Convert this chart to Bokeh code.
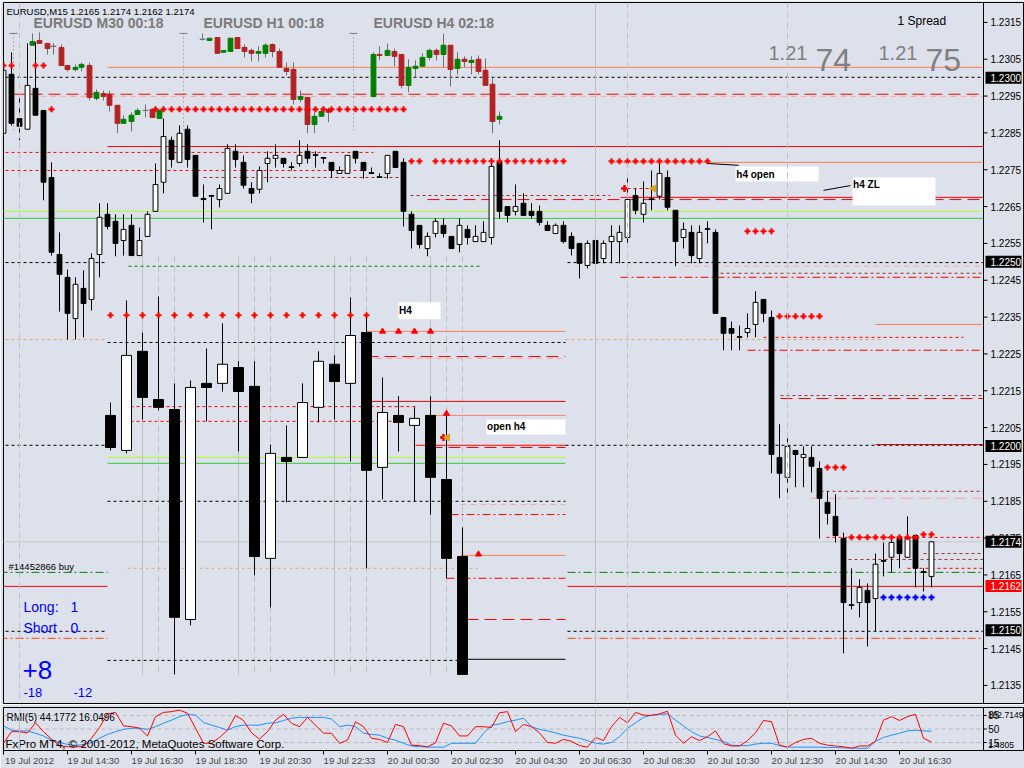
from bokeh.plotting import figure
from bokeh.models import (Range1d, LinearAxis, FixedTicker, ColumnDataSource, Span)
from bokeh.layouts import column
from bokeh.core.properties import value
from bokeh.embed import file_html
from bokeh.resources import INLINE

BG = "#DDE1EB"
FONT = "Liberation Sans"

# ---------------- axis data ----------------
time_ticks = [0, 8, 16, 24, 32, 40, 48, 56, 64, 72, 80, 88, 96, 104, 112]
time_labels = ["19 Jul 2012", "19 Jul 14:30", "19 Jul 16:30", "19 Jul 18:30", "19 Jul 20:30",
               "19 Jul 22:33", "20 Jul 00:30", "20 Jul 02:30", "20 Jul 04:30", "20 Jul 06:30",
               "20 Jul 08:30", "20 Jul 10:30", "20 Jul 12:30", "20 Jul 14:30", "20 Jul 16:30"]
price_ticks = [1.2135, 1.2145, 1.2155, 1.2165, 1.2175, 1.2185, 1.2195, 1.2205, 1.2215, 1.2225,
               1.2235, 1.2245, 1.2255, 1.2265, 1.2275, 1.2285, 1.2295, 1.2305, 1.2315]
price_tick_labels = ["1.2135", "1.2145", "1.2155", "1.2165", "1.2175", "1.2185", "1.2195", "1.2205",
                     "1.2215", "1.2225", "1.2235", "1.2245", "1.2255", "1.2265", "1.2275", "1.2285",
                     "1.2295", "1.2305", "1.2315"]
price_box_text = ["1.2300", "1.2250", "1.2200", "1.2174", "1.2162", "1.2150"]
price_box_level = [1.2300, 1.2250, 1.2200, 1.2174, 1.2162, 1.2150]
price_box_color = ["black", "black", "black", "black", "red", "black"]
rmi_levels = [15, 50, 85]
rmi_level_labels = ["15", "50", "85"]

# ---------------- EURUSD M15 candles ----------------
m15_open = [1.22849, 1.23009, 1.22889, 1.22860, 1.22971, 1.22911, 1.22729, 1.22520, 1.22458, 1.22346,
            1.22428, 1.22398, 1.22520, 1.22629, 1.22610, 1.22558, 1.22599, 1.22517, 1.22569, 1.22637,
            1.22716, 1.22830, 1.22770, 1.22860, 1.22789, 1.22672, 1.22680, 1.22669, 1.22686, 1.22800,
            1.22770, 1.22699, 1.22697, 1.22767, 1.22781, 1.22781, 1.22758, 1.22767, 1.22800, 1.22791,
            1.22783, 1.22770, 1.22740, 1.22740, 1.22800, 1.22770, 1.22742, 1.22731, 1.22740, 1.22800,
            1.22770, 1.22629, 1.22599, 1.22536, 1.22577, 1.22599, 1.22569, 1.22547, 1.22588, 1.22555,
            1.22555, 1.22566, 1.22770, 1.22650, 1.22637, 1.22659, 1.22637, 1.22637, 1.22599, 1.22577,
            1.22599, 1.22569, 1.22550, 1.22490, 1.22558, 1.22509, 1.22555, 1.22555, 1.22566, 1.22680,
            1.22629, 1.22671, 1.22678, 1.22729, 1.22640, 1.22566, 1.22580, 1.22509, 1.22590, 1.22580,
            1.22349, 1.22319, 1.22297, 1.22308, 1.22330, 1.22398, 1.22349, 1.21969, 1.21915, 1.21988,
            1.21969, 1.21969, 1.21939, 1.21847, 1.21809, 1.21749, 1.21569, 1.21575, 1.21608, 1.21586,
            1.21689, 1.21698, 1.21749, 1.21698, 1.21757, 1.21659, 1.21646]
m15_high = [1.23020, 1.23069, 1.22946, 1.23093, 1.23096, 1.22911, 1.22770, 1.22580, 1.22479, 1.22458,
            1.22477, 1.22523, 1.22659, 1.22659, 1.22629, 1.22629, 1.22629, 1.22593, 1.22637, 1.22767,
            1.22889, 1.22840, 1.22870, 1.22870, 1.22789, 1.22710, 1.22682, 1.22710, 1.22819, 1.22819,
            1.22789, 1.22716, 1.22759, 1.22800, 1.22819, 1.22781, 1.22770, 1.22830, 1.22819, 1.22800,
            1.22783, 1.22770, 1.22759, 1.22789, 1.22800, 1.22770, 1.22756, 1.22740, 1.22789, 1.22800,
            1.22781, 1.22637, 1.22599, 1.22580, 1.22618, 1.22618, 1.22569, 1.22618, 1.22599, 1.22599,
            1.22610, 1.22781, 1.22830, 1.22650, 1.22710, 1.22686, 1.22659, 1.22653, 1.22610, 1.22604,
            1.22610, 1.22580, 1.22550, 1.22558, 1.22566, 1.22558, 1.22599, 1.22599, 1.22740, 1.22699,
            1.22718, 1.22748, 1.22770, 1.22748, 1.22640, 1.22607, 1.22599, 1.22599, 1.22610, 1.22588,
            1.22349, 1.22338, 1.22327, 1.22360, 1.22420, 1.22398, 1.22368, 1.22059, 1.22029, 1.21988,
            1.21999, 1.21999, 1.21958, 1.21877, 1.21869, 1.21765, 1.21668, 1.21638, 1.21627, 1.21708,
            1.21738, 1.21749, 1.21757, 1.21809, 1.21757, 1.21668, 1.21740]
m15_low = [1.22811, 1.22870, 1.22830, 1.22860, 1.22898, 1.22667, 1.22517, 1.22365, 1.22289, 1.22289,
           1.22295, 1.22368, 1.22458, 1.22588, 1.22515, 1.22517, 1.22517, 1.22517, 1.22569, 1.22637,
           1.22686, 1.22756, 1.22770, 1.22756, 1.22678, 1.22607, 1.22588, 1.22648, 1.22686, 1.22756,
           1.22699, 1.22659, 1.22686, 1.22716, 1.22756, 1.22756, 1.22748, 1.22759, 1.22767, 1.22756,
           1.22767, 1.22729, 1.22740, 1.22740, 1.22767, 1.22726, 1.22740, 1.22729, 1.22726, 1.22756,
           1.22596, 1.22536, 1.22536, 1.22515, 1.22566, 1.22566, 1.22536, 1.22526, 1.22547, 1.22555,
           1.22555, 1.22547, 1.22618, 1.22607, 1.22626, 1.22626, 1.22618, 1.22599, 1.22585, 1.22577,
           1.22550, 1.22517, 1.22455, 1.22482, 1.22455, 1.22496, 1.22496, 1.22496, 1.22550, 1.22629,
           1.22607, 1.22640, 1.22669, 1.22640, 1.22488, 1.22536, 1.22496, 1.22496, 1.22550, 1.22360,
           1.22260, 1.22260, 1.22260, 1.22295, 1.22295, 1.22336, 1.21926, 1.21858, 1.21858, 1.21888,
           1.21888, 1.21874, 1.21749, 1.21787, 1.21738, 1.21437, 1.21556, 1.21535, 1.21456, 1.21497,
           1.21646, 1.21657, 1.21668, 1.21698, 1.21616, 1.21605, 1.21616]
m15_close = [1.23020, 1.22876, 1.22868, 1.22979, 1.22898, 1.22716, 1.22526, 1.22466, 1.22360, 1.22439,
             1.22387, 1.22509, 1.22621, 1.22596, 1.22550, 1.22588, 1.22517, 1.22558, 1.22629, 1.22710,
             1.22840, 1.22778, 1.22849, 1.22778, 1.22678, 1.22669, 1.22678, 1.22699, 1.22808, 1.22778,
             1.22708, 1.22686, 1.22748, 1.22781, 1.22789, 1.22767, 1.22756, 1.22789, 1.22781, 1.22789,
             1.22781, 1.22748, 1.22748, 1.22789, 1.22781, 1.22748, 1.22740, 1.22729, 1.22789, 1.22756,
             1.22637, 1.22585, 1.22547, 1.22569, 1.22610, 1.22577, 1.22536, 1.22599, 1.22566, 1.22569,
             1.22580, 1.22759, 1.22637, 1.22626, 1.22650, 1.22626, 1.22626, 1.22607, 1.22585, 1.22599,
             1.22555, 1.22536, 1.22496, 1.22550, 1.22496, 1.22550, 1.22569, 1.22580, 1.22669, 1.22640,
             1.22659, 1.22669, 1.22740, 1.22648, 1.22555, 1.22588, 1.22517, 1.22580, 1.22588, 1.22360,
             1.22306, 1.22306, 1.22295, 1.22319, 1.22390, 1.22360, 1.21977, 1.21926, 1.21999, 1.21977,
             1.21977, 1.21945, 1.21858, 1.21817, 1.21757, 1.21575, 1.21567, 1.21616, 1.21575, 1.21679,
             1.21687, 1.21738, 1.21708, 1.21749, 1.21668, 1.21657, 1.21740]

# ---------------- overlay mini charts (M30 / H1 / H4) ----------------
mini_x = [3.625, 4.5, 5.5, 6.25, 7.25, 8.0, 9.0, 9.75, 10.75, 11.625, 12.5, 13.25, 14.25, 15.0, 16.0,
          16.75, 17.75, 18.625, 19.5,
          24.875, 25.75, 26.75, 27.5, 28.375, 29.25, 30.125, 31.0, 31.875, 32.75, 33.625, 34.5, 35.375,
          36.25, 37.125, 38.0, 38.875, 39.75, 40.625,
          46.25, 47.0, 48.0, 48.875, 49.75, 50.625, 51.5, 52.375, 53.25, 54.125, 55.0, 55.875, 56.75,
          57.625, 58.5, 59.375, 60.25, 61.125, 62.0]
mini_open = [1.23088, 1.23101, 1.23093, 1.23085, 1.23082, 1.23033, 1.23022, 1.23028, 1.23033, 1.22944,
             1.22957, 1.22955, 1.22925, 1.22876, 1.22881, 1.22900, 1.22911, 1.22914, 1.22889,
             1.23104, 1.23101, 1.23109, 1.23069, 1.23071, 1.23109, 1.23082, 1.23074, 1.23066, 1.23066,
             1.23090, 1.23071, 1.23025, 1.23022, 1.22941, 1.22946, 1.22873, 1.22895, 1.22914,
             1.22949, 1.23063, 1.23060, 1.23071, 1.23063, 1.22979, 1.23025, 1.23031, 1.23055, 1.23074,
             1.23063, 1.23088, 1.23025, 1.23050, 1.23041, 1.23050, 1.23020, 1.22982, 1.22887]
mini_high = [1.23120, 1.23123, 1.23093, 1.23093, 1.23090, 1.23033, 1.23036, 1.23041, 1.23041, 1.22968,
             1.22965, 1.22965, 1.22925, 1.22898, 1.22906, 1.22917, 1.22927, 1.22914, 1.22914,
             1.23120, 1.23107, 1.23109, 1.23074, 1.23107, 1.23109, 1.23090, 1.23079, 1.23085, 1.23093,
             1.23093, 1.23079, 1.23041, 1.23041, 1.22965, 1.22946, 1.22906, 1.22919, 1.22919,
             1.23069, 1.23085, 1.23093, 1.23079, 1.23063, 1.23050, 1.23047, 1.23066, 1.23079, 1.23079,
             1.23120, 1.23088, 1.23069, 1.23058, 1.23058, 1.23060, 1.23052, 1.22998, 1.22908]
mini_low = [1.23088, 1.23093, 1.23063, 1.23063, 1.23033, 1.23017, 1.23017, 1.23017, 1.22938, 1.22938,
            1.22938, 1.22908, 1.22849, 1.22876, 1.22854, 1.22900, 1.22892, 1.22892, 1.22889,
            1.23101, 1.23101, 1.23066, 1.23069, 1.23071, 1.23079, 1.23055, 1.23044, 1.23044, 1.23055,
            1.23055, 1.23028, 1.23006, 1.22927, 1.22933, 1.22849, 1.22849, 1.22895, 1.22879,
            1.22946, 1.23047, 1.23060, 1.23031, 1.22971, 1.22960, 1.23001, 1.23031, 1.23047, 1.23047,
            1.23028, 1.22976, 1.23009, 1.23028, 1.23009, 1.23009, 1.22979, 1.22849, 1.22873]
mini_close = [1.23098, 1.23093, 1.23079, 1.23085, 1.23033, 1.23022, 1.23028, 1.23036, 1.22946, 1.22960,
              1.22949, 1.22925, 1.22876, 1.22887, 1.22898, 1.22911, 1.22911, 1.22892, 1.22911,
              1.23104, 1.23107, 1.23066, 1.23074, 1.23107, 1.23079, 1.23071, 1.23066, 1.23071, 1.23088,
              1.23071, 1.23028, 1.23017, 1.22941, 1.22949, 1.22873, 1.22895, 1.22908, 1.22906,
              1.23063, 1.23060, 1.23074, 1.23058, 1.22979, 1.23028, 1.23031, 1.23055, 1.23074, 1.23063,
              1.23088, 1.23022, 1.23050, 1.23044, 1.23047, 1.23017, 1.22979, 1.22881, 1.22895]
mini_sep_x = [1.25, 22.5, 43.75]
mini_titles = ["EURUSD M30 00:18", "EURUSD H1 00:18", "EURUSD H4 02:18"]
mini_title_x = [3.75, 25.0, 46.25]

# ---------------- overlay large candles ----------------
big_x = [13.375, 15.375, 17.375, 19.375, 21.375, 23.375, 25.375, 27.375, 29.375, 31.375, 33.375, 35.375,
         37.375, 39.375, 41.375, 43.375, 45.375, 47.375, 49.375, 51.375, 53.375, 55.375, 57.375]
big_open = [1.22083, 1.21988, 1.22257, 1.22126, 1.22099, 1.21529, 1.22170, 1.22170, 1.22213, 1.22162,
            1.21695, 1.21969, 1.21969, 1.22105, 1.22222, 1.22170, 1.22308, 1.21942, 1.22083, 1.22056,
            1.22083, 1.21909, 1.21700]
big_high = [1.22118, 1.22395, 1.22308, 1.22406, 1.22170, 1.22178, 1.22265, 1.22333, 1.22230, 1.22230,
            1.22004, 1.22056, 1.22170, 1.22257, 1.22246, 1.22403, 1.22355, 1.22186, 1.22135, 1.22105,
            1.22135, 1.22083, 1.21779]
big_low = [1.21988, 1.21980, 1.22072, 1.22097, 1.21380, 1.21513, 1.22067, 1.22148, 1.21985, 1.21649,
           1.21562, 1.21847, 1.21969, 1.22064, 1.22072, 1.21958, 1.21668, 1.21855, 1.21985, 1.21850,
           1.21814, 1.21641, 1.21380]
big_close = [1.21996, 1.22246, 1.22132, 1.22105, 1.21535, 1.22159, 1.22159, 1.22222, 1.22148, 1.21700,
             1.21980, 1.21958, 1.22118, 1.22230, 1.22175, 1.22300, 1.21934, 1.22091, 1.22064, 1.22075,
             1.21915, 1.21695, 1.21380]
big_grid_x = [17.375, 19.375, 21.375, 29.375, 31.375, 33.375, 41.375, 43.375, 45.375, 53.375, 55.375, 57.375]
big_grid_style = ["solid", "vdash", "vdash"] * 4
big_grid_top = 1.22515
big_grid_bottom = 1.21377

# ---------------- horizontal level lines ----------------
hl_price = [1.23028, 1.23001, 1.22955, 1.22949, 1.22813, 1.22797, 1.22770, 1.22748, 1.22729, 1.22699,
            1.22680, 1.22675, 1.22669, 1.22637, 1.22618, 1.22498, 1.22498, 1.22488, 1.22488, 1.22469,
            1.22458, 1.22330, 1.22311, 1.22295, 1.22289, 1.22289, 1.22281, 1.22260, 1.22243, 1.22238,
            1.22137, 1.22129, 1.22121, 1.22107, 1.22083, 1.22067, 1.22002, 1.22002, 1.22004, 1.22002,
            1.21996, 1.21969, 1.21953, 1.21877, 1.21858, 1.21850, 1.21841, 1.21814, 1.21752, 1.21740,
            1.21708, 1.21703, 1.21692, 1.21668, 1.21668, 1.21657, 1.21657, 1.21641, 1.21619, 1.21619,
            1.21529, 1.21497, 1.21497, 1.21478, 1.21478, 1.21421, 1.21418]
hl_x0 = [13.0, -0.5, 1.125, 4.625, 13.0, -0.5, 75.875, -0.5, 25.0, 78.0,
         50.875, 77.125, 53.0, -0.5, -0.5, -0.5, 70.5, 15.625, 85.0, 89.625,
         77.125, 109.0, 45.375, 95.0, -0.5, 70.25, 13.0, 93.0, 45.375, 45.375,
         97.125, 97.125, 45.375, 15.875, 53.375, 15.875, -0.5, 70.25, 109.0, 51.5,
         53.375, 13.0, 13.0, 102.125, 100.875, 13.0, 57.125, 55.875, 102.875, -0.5,
         115.0, 57.125, 105.625, 113.0, 15.5, -0.5, 70.5, 55.375, -0.5, 70.5,
         57.875, -0.5, 70.5, -0.5, 70.5, 57.875, 13.0]
hl_x1 = [122.5, 122.5, 122.5, 122.5, 122.5, 46.25, 122.5, 45.0, 49.4, 80.875,
         75.875, 122.5, 122.5, 122.5, 122.5, 13.0, 122.5, 59.625, 122.5, 122.5,
         122.5, 122.5, 70.25, 120.0, 13.0, 110.0, 70.25, 122.5, 70.25, 70.25,
         122.5, 122.5, 70.25, 51.5, 70.25, 49.625, 13.0, 122.5, 122.5, 70.25,
         70.25, 70.25, 70.25, 122.5, 122.5, 70.25, 70.25, 70.25, 122.5, 122.5,
         122.5, 70.25, 122.5, 122.5, 59.625, 13.0, 122.5, 70.25, 13.0, 122.5,
         70.25, 13.0, 122.5, 13.0, 122.5, 70.25, 57.875]
hl_color = ["#FF7F50", "black", "red", "#F5A9A9", "red", "red", "#FF7F50", "red", "#A52A2A", "red",
            "#A52A2A", "red", "red", "#ADFF2F", "#32CD32", "black", "black", "#008000", "#F5A9A9", "#A52A2A",
            "red", "#FF7F50", "#FF7F50", "red", "#F4A460", "#F4A460", "black", "red", "red", "#F5A9A9",
            "#A52A2A", "red", "red", "red", "#FA8072", "red", "black", "black", "red", "red",
            "red", "#ADFF2F", "#32CD32", "#A52A2A", "#F5A9A9", "black", "#F5A9A9", "red", "red", "#C8C8C8",
            "#A52A2A", "#FF7F50", "#A52A2A", "red", "#F4A460", "#008000", "#008000", "red", "red", "red",
            "red", "black", "black", "#FF4500", "#FF4500", "black", "black"]
hl_style = ["solid", "dash", "longdash", "mdash", "solid", "dash", "solid", "dash", "dash", "dash",
            "dash", "solid", "longdash", "solid", "solid", "dash", "dash", "dash", "mdash", "dash",
            "dashdot", "solid", "solid", "dash", "dash", "dash", "dash", "dashdot", "longdash", "mdash",
            "dash", "longdash", "solid", "dash", "solid", "dash", "dash", "dash", "solid", "solid",
            "longdash", "solid", "solid", "dash", "longdash", "dash", "mdash", "dashdot", "dash", "solid",
            "dash", "solid", "dash", "dash", "dash", "dashdot", "dashdot", "dashdot", "solid", "solid",
            "longdash", "dash", "dash", "dashdot", "dashdot", "solid", "dash"]

# ---------------- vertical separators ----------------
vl_x = [2.0, 74.0, 78.0, 98.0]
vl_style = ["vdash", "solid", "vdash", "vdash"]

# ---------------- indicator marks ----------------
dot_rows_x = [[0, 1, 4, 5],
              [6, 19, 20, 21, 22, 23, 24, 25, 26, 27, 28, 29, 30, 31, 32, 33, 34, 35, 36, 37, 38, 39, 40,
               41, 42, 43, 44, 45, 46, 47, 48, 49, 50],
              [51, 52, 54, 55, 56, 57, 58, 59, 60, 61, 62, 63, 64, 65, 66, 67, 68, 69, 70,
               76, 77, 78, 79, 80, 81, 82, 83, 84, 85, 86, 87, 88],
              [93, 94, 95, 96],
              [97, 98, 99, 100, 101, 102],
              [103, 104, 105],
              [106, 107, 108, 109, 110, 111, 112, 113, 114],
              [115, 116],
              [13.375, 15.375, 17.375, 19.375, 21.375, 23.375, 25.375, 27.375, 29.375, 31.375, 33.375,
               35.375, 37.375, 39.375, 41.375, 43.375, 45.375]]
dot_rows_price = [1.23033, 1.22914, 1.22773, 1.22583, 1.22352, 1.21942, 1.21752, 1.21760, 1.22355]
blue_dots_x = [110, 111, 112, 113, 114, 115, 116]
blue_dots_price = 1.21589
arrow_up_x = [47.375, 49.375, 51.375, 53.375, 55.375, 59.375]
arrow_up_price = [1.22311, 1.22311, 1.22311, 1.22311, 1.22088, 1.21706]
star_x = [77.625, 55.0]
star_price = [1.22699, 1.22023]
arrow_left_x = [81.25, 55.5]
arrow_left_price = [1.22699, 1.22023]

# ---------------- notes ----------------
box_left = [91.5, 106.125, 49.375, 60.375]
box_right = [101.875, 116.5, 54.625, 70.25]
box_top = [1.22759, 1.22729, 1.22390, 1.22072]
box_bottom = [1.22718, 1.22653, 1.22344, 1.22031]
conn_x0 = [88.0, 102.5]
conn_x1 = [91.875, 105.875]
conn_y0 = [1.22767, 1.22694]
conn_y1 = [1.22762, 1.22707]

note_x = [0.375, 111.75, 91.6, 106.2, 49.45, 60.45, 0.625, 2.5, 8.375, 2.5, 8.375, 2.375, 2.5, 8.75,
          95.625, 101.5, 109.375, 115.25]
note_y = [1.23180, 1.23153, 1.22737, 1.22710, 1.22368, 1.22053, 1.21673, 1.21564, 1.21564, 1.21507,
          1.21507, 1.21393, 1.21331, 1.21331, 1.23066, 1.23047, 1.23066, 1.23047]
note_text = ["EURUSD,M15  1.2165 1.2174 1.2162 1.2174", "1 Spread", "h4 open", "h4 ZL", "H4", "open h4",
             "#14452866 buy", "Long:", "1", "Short", "0", "+8", "-18", "-12", "1.21", "74", "1.21", "75"]
note_size = ["9.5px", "12px", "10px", "10px", "10px", "10px", "9.5px", "14px", "14px", "14px", "14px",
             "26px", "13px", "13px", "20px", "32px", "20px", "32px"]
note_color = ["black", "black", "black", "black", "black", "black", "black", "blue", "blue", "blue",
              "blue", "blue", "blue", "blue", "#808080", "#808080", "#808080", "#808080"]
note_bold = [False, False, True, True, True, True, False, False, False, False, False, False, False, False,
             False, False, False, False]
note_base = ["middle"] * 14 + ["alphabetic"] * 4

# ---------------- RMI(5) ----------------
rmi_red = [12.8, 43, 43, 40, 66, 43, 24, 7, 4, 4, 4, 26, 54, 89, 93, 58, 56, 52, 32, 82,
           93, 95, 99, 91, 52, 13, 13, 28, 47, 85, 72, 40, 24, 43, 73, 88, 65, 56, 80, 60,
           39, 39, 13, 21, 69, 56, 26, 23, 15, 62, 56, 8, 7, 4, 14, 65, 58, 32, 32, 56,
           56, 54, 92, 95, 43, 62, 56, 40, 15, 13, 23, 18, 7, 3, 28, 20, 56, 80, 66, 93,
           86, 85, 89, 96, 34, 13, 30, 20, 30, 45, 12, 6, 6, 20, 40, 72, 69, 8, 3, 15,
           23, 26, 13, 8, 6, 4, 0, 6, 6, 18, 73, 82, 72, 82, 88, 26, 16.05]
rmi_blue = [58, 47, 45, 45, 39, 32, 21, 15, 10, 7, 10, 15, 26, 36, 43, 49, 52, 52, 49, 56,
            65, 73, 82, 88, 86, 67, 60, 54, 47, 56, 60, 60, 60, 65, 66, 72, 78, 80, 80, 80,
            80, 76, 56, 60, 56, 39, 36, 34, 26, 21, 13, 6, 4, 3, 3, 3, 13, 13, 13, 13,
            39, 60, 63, 69, 73, 78, 56, 49, 45, 40, 34, 30, 26, 20, 13, 11, 15, 30, 52, 66,
            80, 86, 88, 89, 73, 58, 43, 32, 28, 23, 18, 8, 7, 7, 11, 13, 13, 7, 3, 3,
            3, 3, 3, 2, 2, 1, 1, 0, 0, 18, 28, 34, 39, 45, 47, 45, 44.18]
rmi_note_text = ["RMI(5) 44.1772 16.0496", "FxPro MT4, \u00a9 2001-2012, MetaQuotes Software Corp."]
rmi_note_x = [0.375, 0.25]
rmi_note_y = [81, 11]
rmi_note_size = ["10px", "11.5px"]
rmi_side_text = ["102.7149", "1.4805"]
rmi_side_y = [86, 8]

DASH = {"solid": "solid", "dash": "3 3", "longdash": "12 6", "mdash": "6 4",
        "dashdot": "8 3 2 3", "vdash": "6 4"}

BORDER_X = 122.5          # chart border (price scale starts right of it)
SCALE_X = 123.375         # price-scale text column
BOX_L, BOX_R = 122.75, 127.25
BOX_HALF = 0.000163

# =============== main chart ===============
x_range = Range1d(0, 127.625)
p = figure(frame_width=1021, frame_height=701, x_range=x_range, y_range=Range1d(1.21301, 1.23204),
           output_backend="svg", toolbar_location=None, x_axis_location=None, y_axis_location=None,
           min_border_left=3, min_border_right=0, min_border_top=2, min_border_bottom=1)
p.background_fill_color = BG
p.border_fill_color = BG
p.outline_line_color = "black"
p.grid.visible = False

for xv, st in zip(vl_x, vl_style):
    p.add_layout(Span(location=xv, dimension="height", line_color="#C0C0C0",
                      line_dash=DASH[st], line_width=1))

for xv, st in zip(big_grid_x, big_grid_style):
    p.segment(x0=[xv], y0=[big_grid_top], x1=[xv], y1=[big_grid_bottom],
              line_color="#C0C0C0", line_dash=DASH[st], line_width=1)

for st in DASH:
    idx = [i for i, s in enumerate(hl_style) if s == st]
    if not idx:
        continue
    src = ColumnDataSource(dict(x0=[hl_x0[i] for i in idx], x1=[hl_x1[i] for i in idx],
                                y=[hl_price[i] for i in idx], c=[hl_color[i] for i in idx]))
    p.segment("x0", "y", "x1", "y", source=src, line_color="c", line_dash=DASH[st], line_width=1)

# mini chart separators
p.segment(x0=mini_sep_x, y0=[1.23120] * 3, x1=mini_sep_x, y1=[1.22857] * 3,
          line_color="#808080", line_dash="1 3", line_width=1)
p.segment(x0=[v - 0.5 for v in mini_sep_x], y0=[1.23120] * 3, x1=[v + 0.5 for v in mini_sep_x],
          y1=[1.23120] * 3, line_color="#808080", line_width=1)

# big candles
big_src = ColumnDataSource(dict(
    x=big_x, h=big_high, l=big_low,
    top=[max(o, c) for o, c in zip(big_open, big_close)],
    bot=[min(o, c) for o, c in zip(big_open, big_close)],
    fill=["white" if c > o else "black" for o, c in zip(big_open, big_close)]))
p.segment("x", "h", "x", "l", source=big_src, line_color="black", line_width=1)
p.vbar(x="x", width=1.25, top="top", bottom="bot", fill_color="fill", line_color="black",
       line_width=1, source=big_src)

# mini candles
mini_col = ["#008000" if c > o else ("#B22222" if c < o else "#808080")
            for o, c in zip(mini_open, mini_close)]
mini_src = ColumnDataSource(dict(
    x=mini_x, h=mini_high, l=mini_low,
    top=[max(o, c) for o, c in zip(mini_open, mini_close)],
    bot=[min(o, c) for o, c in zip(mini_open, mini_close)], col=mini_col))
p.segment("x", "h", "x", "l", source=mini_src, line_color="#707070", line_width=1)
p.vbar(x="x", width=0.6, top="top", bottom="bot", fill_color="col", line_color="col", source=mini_src)
doji_i = [i for i in range(len(mini_x)) if mini_open[i] == mini_close[i]]
p.segment(x0=[mini_x[i] - 0.35 for i in doji_i], y0=[mini_open[i] for i in doji_i],
          x1=[mini_x[i] + 0.35 for i in doji_i], y1=[mini_open[i] for i in doji_i],
          line_color="#707070", line_width=1)

# M15 candles
m15_x = list(range(len(m15_open)))
m_src = ColumnDataSource(dict(
    x=m15_x, h=m15_high, l=m15_low,
    top=[max(o, c) for o, c in zip(m15_open, m15_close)],
    bot=[min(o, c) for o, c in zip(m15_open, m15_close)],
    fill=["white" if c > o else "black" for o, c in zip(m15_open, m15_close)]))
p.segment("x", "h", "x", "l", source=m_src, line_color="black", line_width=1)
p.vbar(x="x", width=0.6, top="top", bottom="bot", fill_color="fill", line_color="black",
       line_width=1, source=m_src)

# indicator dots
for row, pr in zip(dot_rows_x, dot_rows_price):
    p.scatter(x=row, y=[pr] * len(row), marker="cross", size=6, line_color="red", line_width=2.2)
p.scatter(x=blue_dots_x, y=[blue_dots_price] * len(blue_dots_x), marker="cross", size=6,
          line_color="blue", line_width=2.2)
p.scatter(x=arrow_up_x, y=arrow_up_price, marker="triangle", size=6, fill_color="red", line_color="red")
p.scatter(x=star_x, y=star_price, marker="cross", size=7, line_color="red", line_width=2.5)
p.scatter(x=arrow_left_x, y=arrow_left_price, marker="triangle", size=7, angle=1.5708,
          fill_color="#DAA520", line_color="#DAA520")

# note boxes
p.quad(left=box_left, right=box_right, top=box_top, bottom=box_bottom, fill_color="white", line_color=None)
p.segment(x0=conn_x0, y0=conn_y0, x1=conn_x1, y1=conn_y1, line_color="black", line_width=1)

for xv, txt in zip(mini_title_x, mini_titles):
    p.text(x=[xv], y=[1.23147], text=[txt], text_font=value(FONT), text_font_size="14px",
           text_font_style="bold", text_color="#7A7A7A", text_baseline="middle")

for i in range(len(note_text)):
    p.text(x=[note_x[i]], y=[note_y[i]], text=[note_text[i]], text_font=value(FONT),
           text_font_size=note_size[i], text_color=note_color[i],
           text_font_style="bold" if note_bold[i] else "normal", text_baseline=note_base[i])

# price scale (right strip of the window)
p.add_layout(Span(location=BORDER_X, dimension="height", line_color="black", line_width=1))
p.segment(x0=[BORDER_X] * len(price_ticks), y0=price_ticks, x1=[BORDER_X + 0.5] * len(price_ticks),
          y1=price_ticks, line_color="black", line_width=1)
p.text(x=[SCALE_X] * len(price_ticks), y=price_ticks, text=price_tick_labels, text_font=value(FONT),
       text_font_size="10px", text_color="black", text_baseline="middle")
p.quad(left=[BOX_L] * len(price_box_level), right=[BOX_R] * len(price_box_level),
       top=[v + BOX_HALF for v in price_box_level], bottom=[v - BOX_HALF for v in price_box_level],
       fill_color=price_box_color, line_color=None)
p.text(x=[SCALE_X] * len(price_box_level), y=price_box_level, text=price_box_text, text_font=value(FONT),
       text_font_size="10px", text_color="white", text_baseline="middle")

# =============== RMI panel ===============
r = figure(frame_width=1021, frame_height=43, x_range=x_range, y_range=Range1d(-5.7, 105.7),
           output_backend="svg", toolbar_location=None, y_axis_location=None,
           min_border_left=3, min_border_right=0, min_border_top=3, min_border_bottom=0)
r.background_fill_color = BG
r.border_fill_color = BG
r.outline_line_color = "black"
r.grid.visible = False
rx = r.xaxis[0]
rx.ticker = FixedTicker(ticks=time_ticks)
rx.major_label_overrides = {t: "" for t in time_ticks}
rx.major_label_text_font_size = "1px"
rx.major_label_standoff = 0
rx.major_tick_out = 4
rx.major_tick_in = 0
rx.minor_tick_out = 0
rx.axis_line_color = "black"
label_pos = [t + 3.25 for t in time_ticks]
lab_axis = LinearAxis(ticker=FixedTicker(ticks=label_pos),
                      major_label_overrides={pv: lb for pv, lb in zip(label_pos, time_labels)},
                      major_tick_out=0, major_tick_in=0, minor_tick_out=0, minor_tick_in=0,
                      axis_line_color=None, major_label_standoff=0,
                      major_label_text_font=FONT, major_label_text_font_size="9.5px")
r.add_layout(lab_axis, "below")

for xv in vl_x:
    r.add_layout(Span(location=xv, dimension="height", line_color="#C0C0C0", line_width=1))
r.segment(x0=[0] * 3, y0=rmi_levels, x1=[BORDER_X] * 3, y1=rmi_levels,
          line_color="#B8B8B8", line_dash="4 3", line_width=1)

r.line(x=m15_x, y=rmi_blue, line_color="#1E90FF", line_width=1)
r.line(x=m15_x, y=rmi_red, line_color="red", line_width=1)
for i in range(len(rmi_note_text)):
    r.text(x=[rmi_note_x[i]], y=[rmi_note_y[i]], text=[rmi_note_text[i]], text_font=value(FONT),
           text_font_size=rmi_note_size[i], text_color="black", text_baseline="middle")

r.add_layout(Span(location=BORDER_X, dimension="height", line_color="black", line_width=1))
r.segment(x0=[BORDER_X] * 3, y0=rmi_levels, x1=[BORDER_X + 0.4] * 3, y1=rmi_levels,
          line_color="black", line_width=1)
r.text(x=[BORDER_X + 0.6] * 3, y=rmi_levels, text=rmi_level_labels, text_font=value(FONT),
       text_font_size="10px", text_color="black", text_baseline="middle")
r.text(x=[BORDER_X + 0.55] * 2, y=rmi_side_y, text=rmi_side_text, text_font=value(FONT),
       text_font_size="8.5px", text_color="black", text_baseline="middle")

layout = column(p, r, spacing=0)
open("out.html", "w").write(file_html(layout, INLINE))
